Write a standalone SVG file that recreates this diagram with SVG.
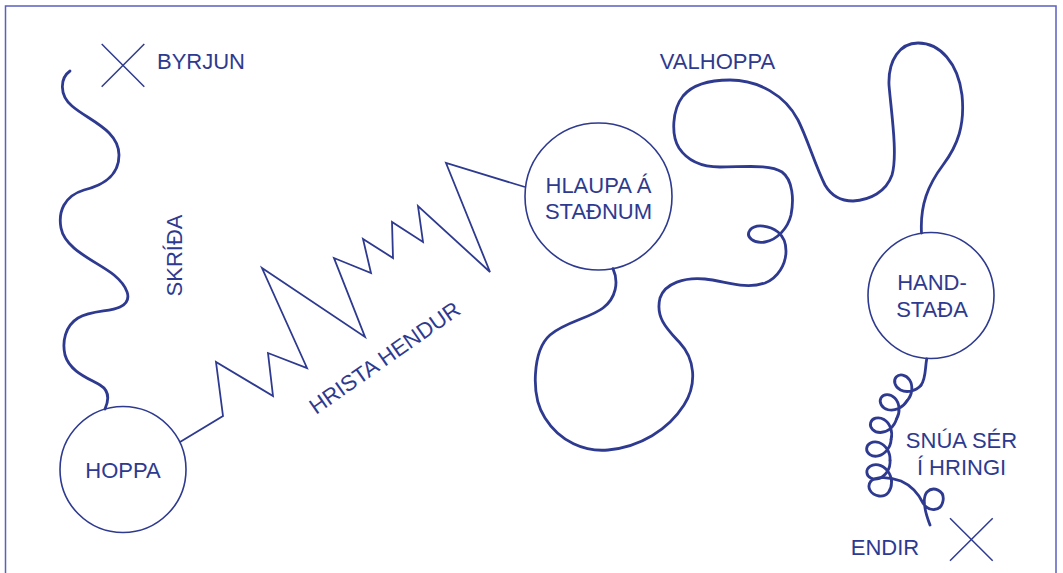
<svg xmlns="http://www.w3.org/2000/svg" xmlns:xlink="http://www.w3.org/1999/xlink" width="1063" height="573" viewBox="0 0 1063 573">
<style>
.t{font-family:"Liberation Sans",Arial,sans-serif;font-size:22px;fill:#2e3a8f}
.m{text-anchor:middle}
.node{fill:none;stroke:#2e3a8f;stroke-width:1.6}
.thick{fill:none;stroke:#2e3a8f;stroke-width:2.8;stroke-linecap:round;stroke-linejoin:round}
.zig{fill:none;stroke:#2e3a8f;stroke-width:1.8;stroke-linejoin:miter}
.x{stroke:#2e3a8f;stroke-width:1.5}
</style>
<defs>
<path id="loop" d="M -10.5 -12 C -2.22 -12 4.95 -6.48 6.75 0 C 8.55 6.48 4.68 12 0 12 C -4.68 12 -8.55 6.48 -6.75 0 C -4.95 -6.48 2.22 -12 10.5 -12"/>
</defs>
<rect x="5.5" y="6" width="1050.5" height="590" fill="none" stroke="#5a5fc0" stroke-width="1.5"/>

<g id="connectors">
<path id="skrida" class="thick" d="M 70 71 C 60 78, 59 95, 72 106 C 88 120, 119 130, 119 155 C 119 178, 100 186, 84 190 C 64 196, 58 212, 61 228 C 65 250, 98 262, 114 275 C 126 285, 135 300, 120 307 C 110 312, 92 310, 78 318 C 65 326, 62 342, 65 355 C 70 372, 88 378, 100 385 C 110 391, 109 400, 105 409"/>
<polyline id="hrista" class="zig" points="180,442 223,416 216,362 273,396 268,353 307,368 262,268 365,337 334,258 371,273 363,239 393,258 392,222 423,242 418,206 490,272 446,163 525,187"/>
<path id="valhoppa" class="thick" d="M 613 268.6 C 619 282, 616 298, 603 308 C 590 318, 565 322, 550 335 C 533 350, 530 395, 545 418 C 560 442, 585 452, 608 450 C 640 447, 668 430, 684 405 C 698 383, 694 358, 680 343 C 668 330, 655 318, 660 298 C 665 283, 685 277, 705 279 C 725 281, 745 290, 765 283 C 778 278, 786 264, 786 251 C 786 243, 784 237, 778 232 C 770 226, 756 223, 750 230 C 745 237, 754 244, 765 242 C 777 240, 788 228, 791 215 C 794 200, 793 180, 782 172 C 770 164, 745 167, 720 167 C 700 167, 687 160, 679 148 C 671 135, 672 110, 683 96 C 693 84, 710 80, 730 80 C 758 80, 785 95, 798 120 C 808 140, 815 165, 825 185 C 832 197, 842 201, 853 201 C 870 200, 886 192, 892 175 C 898 155, 891 110, 889 85 C 888 60, 900 43, 918 43 C 940 43, 958 63, 962 95 C 965 125, 958 145, 943 165 C 928 185, 920 205, 921.5 233"/>
<g id="snua" class="thick">
<path d="M 926.7 359 C 925 368, 926 379, 921 385.2"/>
<use xlink:href="#loop" href="#loop" transform="translate(905.1 385) rotate(132)"/>
<use xlink:href="#loop" href="#loop" transform="translate(891.4 403.9) rotate(120)"/>
<use xlink:href="#loop" href="#loop" transform="translate(882.2 426) rotate(105)"/>
<use xlink:href="#loop" href="#loop" transform="translate(878.6 449.2) rotate(93)"/>
<use xlink:href="#loop" href="#loop" transform="translate(878.8 471.6) rotate(86)"/>
<path d="M 891.5 481.2 C 892 490, 887 497, 879 496 C 871 495, 866 487, 871 481 C 876 476, 890 477, 901 481 C 910 485, 918 493, 923 503 C 928 512, 941 512, 943 501 C 945 490, 933 486, 927 492 C 922 498, 925 512, 930 525"/>
</g>
<text class="t" transform="translate(182 255.5) rotate(-90)" text-anchor="middle">SKRÍÐA</text>
<text class="t" transform="translate(389 364) rotate(-35)" text-anchor="middle">HRISTA HENDUR</text>
<text class="t m" x="717.5" y="69">VALHOPPA</text>
<text class="t m" x="961.5" y="448">SNÚA SÉR</text>
<text class="t m" x="961.5" y="475">Í HRINGI</text>
</g>

<g id="byrjun">
<line class="x" x1="101.7" y1="44" x2="144.3" y2="86.7"/>
<line class="x" x1="101.7" y1="86.7" x2="144.3" y2="44"/>
<text class="t" x="157" y="69">BYRJUN</text>
</g>

<g id="hoppa">
<circle class="node" cx="123" cy="469.5" r="63"/>
<text class="t m" x="123" y="478">HOPPA</text>
</g>

<g id="hlaupa">
<circle class="node" cx="598.5" cy="196.5" r="73.5"/>
<text class="t m" x="598.5" y="192.7">HLAUPA Á</text>
<text class="t m" x="598.5" y="219">STAÐNUM</text>
</g>

<g id="handstada">
<circle class="node" cx="931" cy="295.5" r="63"/>
<text class="t m" x="932" y="290">HAND-</text>
<text class="t m" x="932" y="317">STAÐA</text>
</g>

<g id="endir">
<line class="x" x1="950" y1="518.3" x2="992.7" y2="560.7"/>
<line class="x" x1="950" y1="560.7" x2="992.7" y2="518.3"/>
<text class="t m" x="885" y="555">ENDIR</text>
</g>
</svg>
